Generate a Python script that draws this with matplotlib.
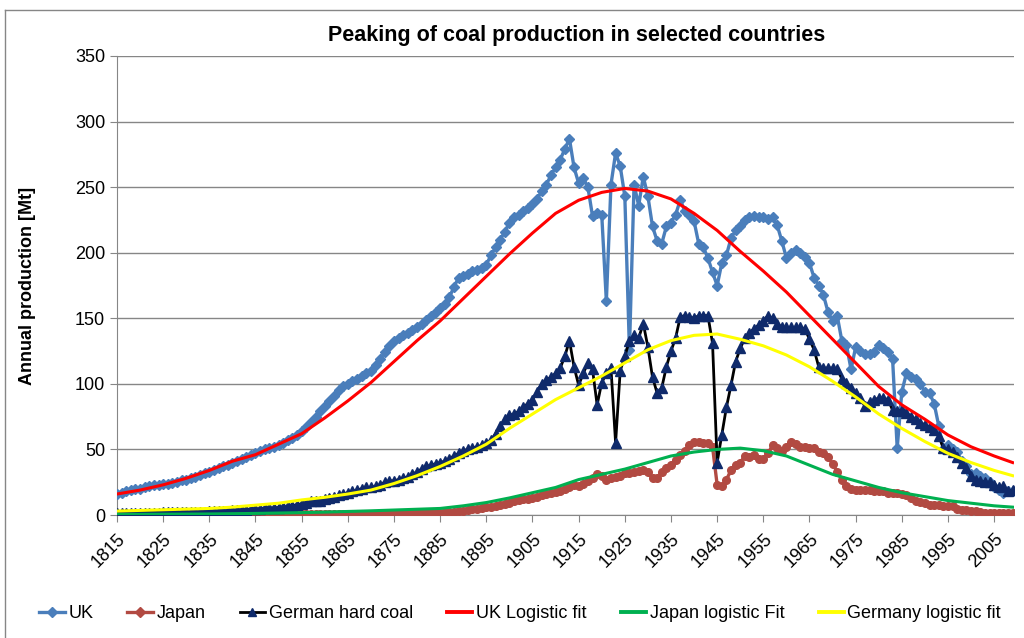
import matplotlib
matplotlib.use('Agg')
import matplotlib.pyplot as plt
from matplotlib.lines import Line2D
import numpy as np

plt.rcParams.update({'font.size': 12})
plt.rcParams['font.family'] = ['Liberation Sans', 'DejaVu Sans']

years = np.arange(1815, 2010)

uk = [16, 17, 18, 19, 19.5, 20, 21, 22, 22.5, 23,
      23.5, 24, 24.5, 25.5, 26.5, 27, 28, 29, 30.5, 32,
      33, 34.5, 36, 37, 38.5, 40, 41.5, 43, 44.5, 46,
      47, 48.5, 50, 51, 52, 53, 55, 57, 59, 61,
      64, 67, 71, 75, 79, 83, 87, 91, 95, 98,
      100, 102, 104, 106, 108, 110, 114, 119, 124, 129,
      133, 135, 137, 139, 141, 143, 146, 149, 152, 155,
      158, 161, 166, 174, 181, 182, 184, 186, 187, 188,
      191, 198, 204, 210, 216, 223, 227, 229, 232, 234,
      237, 241, 247, 252, 259, 265, 271, 279, 287, 265,
      253, 257, 250, 228, 230, 229, 163, 252, 276, 266,
      243, 126, 252, 236, 258, 243, 220, 209, 207, 220,
      223, 229, 240, 232, 229, 224, 207, 204, 196, 185,
      175, 192, 198, 211, 217, 220, 225, 227, 228, 227,
      227, 226, 227, 221, 209, 196, 200, 202, 200, 197,
      192, 181, 175, 168, 155, 148, 152, 133, 130, 111,
      128, 125, 123, 123, 124, 130, 127, 124, 119, 51,
      94, 108, 105, 104, 100, 94, 93, 85, 68, 50,
      53, 50, 48, 41, 37, 31, 32, 30, 28, 25,
      21, 19, 17, 18, 18]

japan = [0.2, 0.2, 0.2, 0.2, 0.2, 0.2, 0.2, 0.2, 0.2, 0.2,
         0.2, 0.2, 0.2, 0.2, 0.2, 0.2, 0.2, 0.2, 0.2, 0.2,
         0.3, 0.3, 0.3, 0.3, 0.3, 0.3, 0.3, 0.3, 0.3, 0.3,
         0.3, 0.3, 0.3, 0.3, 0.3, 0.3, 0.3, 0.3, 0.3, 0.3,
         0.4, 0.4, 0.4, 0.4, 0.4, 0.5, 0.5, 0.5, 0.5, 0.5,
         0.5, 0.5, 0.6, 0.6, 0.6, 0.7, 0.7, 0.8, 0.8, 0.9,
         0.9, 1.0, 1.1, 1.2, 1.3, 1.4, 1.5, 1.6, 1.7, 1.8,
         1.9, 2.0, 2.2, 2.6, 3.0, 3.4, 3.8, 4.3, 4.8, 5.3,
         5.8, 6.3, 7.0, 7.8, 8.5, 9.5, 10.5, 11.5, 12, 12.5,
         13, 14, 15, 16, 17, 17.5, 18, 19.5, 21.5, 23,
         22, 24, 26, 28.5, 31, 30, 27, 28, 29, 30,
         32, 32, 33, 33.5, 34, 33, 28, 28, 33, 36,
         38, 42, 46, 49, 53, 56, 56, 55, 55, 52,
         23, 22, 27, 34, 38, 40, 45, 44, 46, 43,
         43, 47, 53, 51, 49, 52, 56, 54, 52, 52,
         51, 51, 48, 47, 44, 39, 33, 27, 22, 20,
         19, 19, 19, 19, 18, 18, 18, 17, 17, 17,
         16, 15, 13, 11, 10, 9, 8, 8, 7.5, 7,
         6.5, 6.5, 4.5, 4, 4, 3, 3, 2, 1.5, 1.5,
         1.5, 1.5, 1.5, 1.5, 1.5]

germany = [1.5, 1.5, 1.5, 1.6, 1.6, 1.7, 1.7, 1.8, 1.8, 1.9,
           2.0, 2.0, 2.1, 2.1, 2.2, 2.2, 2.3, 2.4, 2.5, 2.6,
           2.7, 2.8, 3.0, 3.1, 3.3, 3.5, 3.7, 3.9, 4.1, 4.3,
           4.5, 4.8, 5.1, 5.2, 5.4, 5.7, 6.0, 6.5, 7.0, 7.8,
           8.5, 9.5, 10.5, 11, 11, 12, 13, 14, 15, 16,
           17, 18, 19, 20, 21, 21, 22, 23, 25, 26,
           26, 27, 28, 29, 31, 33, 35, 37, 38, 39,
           40, 41, 43, 45, 47, 49, 50, 51, 52, 53,
           55, 57, 62, 68, 73, 76, 77, 79, 82, 85,
           88, 94, 100, 103, 105, 108, 112, 121, 133, 113,
           99, 108, 116, 111, 84, 101, 108, 112, 55, 110,
           121, 133, 137, 135, 146, 128, 105, 93, 97, 113,
           125, 135, 151, 152, 151, 150, 152, 152, 152, 131,
           40, 61, 82, 99, 117, 127, 135, 139, 142, 145,
           148, 152, 150, 146, 143, 143, 143, 143, 143, 142,
           134, 126, 113, 112, 112, 112, 111, 104, 101, 97,
           93, 89, 83, 86, 88, 89, 89, 88, 80, 79,
           80, 78, 75, 73, 70, 69, 67, 65, 60, 51,
           50, 48, 44, 40, 36, 30, 27, 26, 25, 25,
           23, 21, 22, 18, 19]

fit_years = [1815, 1820, 1825, 1830, 1835, 1840, 1845, 1850, 1855, 1860,
             1865, 1870, 1875, 1880, 1885, 1890, 1895, 1900, 1905, 1910,
             1915, 1920, 1925, 1930, 1935, 1940, 1945, 1950, 1955, 1960,
             1965, 1970, 1975, 1980, 1985, 1990, 1995, 2000, 2005, 2009]

uk_fit = [16, 19, 23, 28, 34, 41, 46, 54, 62, 74,
          87, 101, 117, 133, 148, 165, 182, 199, 215, 230,
          240, 246, 249, 247, 241, 230, 217, 201, 186, 170,
          152, 134, 116, 98, 84, 73, 61, 52, 45, 40]

japan_fit = [0.5, 0.5, 0.6, 0.7, 0.8, 1.0, 1.2, 1.5, 1.8, 2.2,
             2.7, 3.2, 3.8, 4.4, 5.0, 7.0, 9.5, 13, 17, 21,
             27, 31, 35, 40, 45, 48, 50, 51, 49, 45,
             38, 31, 26, 21, 17, 14, 11, 9, 7, 6]

germany_fit = [3, 3.5, 4, 4.5, 5, 6, 7.5, 9, 11.5, 13.5,
               16, 19, 24, 30, 37, 45, 54, 66, 77, 88,
               97, 106, 116, 126, 133, 137, 138, 134, 129, 122,
               113, 102, 90, 77, 66, 56, 47, 40, 34, 30]

tick_years = list(range(1815, 2006, 10))

blue = '#4A7EBB'
brown = '#B24A42'
navy = '#0F2A6B'

fig = plt.figure(figsize=(10.24, 6.38), dpi=100)
ax = fig.add_axes([117/1024, 1 - 515/638, (1014 - 117)/1024, (515 - 56)/638])

ax.plot(years, uk, color=blue, lw=2.4, marker='D', ms=5.5, mfc=blue, mec=blue, zorder=3)
ax.plot(years, japan, color=brown, lw=2.4, marker='o', ms=5.5, mfc=brown, mec=brown, zorder=3)
ax.plot(years, germany, color='black', lw=2.0, marker='^', ms=6.5, mfc=navy, mec=navy, zorder=3)
ax.plot(fit_years, uk_fit, color='#FF0000', lw=2.2, zorder=4)
ax.plot(fit_years, japan_fit, color='#00B050', lw=2.2, zorder=4)
ax.plot(fit_years, germany_fit, color='#FFFF00', lw=2.2, zorder=4)

ax.set_xlim(1815, 2009.3)
ax.set_ylim(0, 350)
ax.set_yticks(range(0, 351, 50))
ax.set_xticks(tick_years)
ax.set_xticklabels([str(y) for y in tick_years], rotation=45, ha='right',
                   rotation_mode='anchor', fontsize=13)
ax.tick_params(axis='y', labelsize=13, length=5, color='#868686')
ax.tick_params(axis='x', length=5, color='#868686', pad=6)
ax.grid(axis='y', color='#868686', lw=1.0)
ax.set_axisbelow(True)
for s in ['top', 'right']:
    ax.spines[s].set_visible(False)
for s in ['left', 'bottom']:
    ax.spines[s].set_color('#868686')

ax.set_ylabel('Annual production [Mt]', fontsize=13, fontweight='bold', labelpad=28)
fig.text(0.563, 1 - 35/638, 'Peaking of coal production in selected countries',
         ha='center', va='center', fontsize=15.5, fontweight='bold')

handles = [Line2D([], [], color=blue, lw=2.4, marker='D', ms=5, mfc=blue, mec=blue),
           Line2D([], [], color=brown, lw=2.4, marker='D', ms=5, mfc=brown, mec=brown),
           Line2D([], [], color='black', lw=2.0, marker='^', ms=6, mfc=navy, mec=navy),
           Line2D([], [], color='#FF0000', lw=2.8),
           Line2D([], [], color='#00B050', lw=2.8),
           Line2D([], [], color='#FFFF00', lw=2.8)]
labels = ['UK', 'Japan', 'German hard coal', 'UK Logistic fit',
          'Japan logistic Fit', 'Germany logistic fit']
fig.legend(handles, labels, loc='center', bbox_to_anchor=(0.508, 1 - 614/638),
           ncol=6, frameon=False, fontsize=13, handlelength=1.4,
           handletextpad=0.2, columnspacing=1.9)

# chart area border
fig.add_artist(Line2D([5/1024, 1], [1 - 10/638, 1 - 10/638], color='#868686', lw=1))
fig.add_artist(Line2D([5/1024, 5/1024], [0, 1 - 10/638], color='#868686', lw=1))

fig.savefig('out.png', dpi=100)
